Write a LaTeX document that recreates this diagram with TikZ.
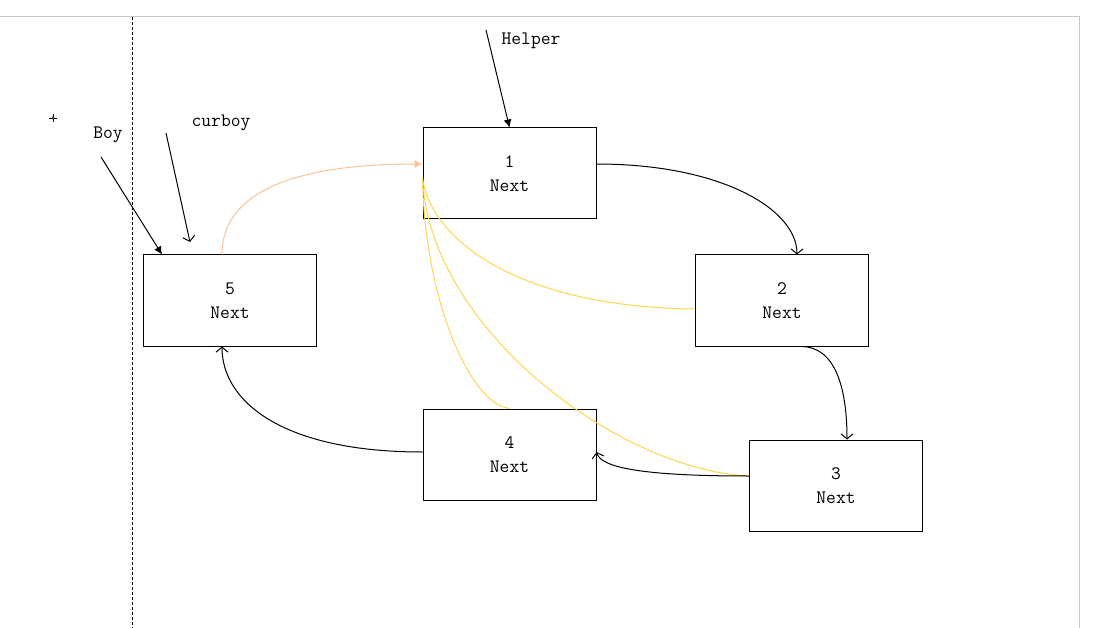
\documentclass[tikz,border=0pt]{standalone}
\usetikzlibrary{arrows.meta,calc}
\definecolor{framegray}{RGB}{200,200,200}
\definecolor{linkorange}{RGB}{248,196,150}
\definecolor{linkyellow}{RGB}{255,213,80}
\begin{document}
\begin{tikzpicture}[x=1pt,y=-1pt,
  txt/.style={font=\ttfamily\fontsize{19}{24}\selectfont, inner sep=0pt},
  listbox/.style={draw, line width=1pt, minimum width=173pt, minimum height=91pt, align=center,
    font=\ttfamily\fontsize{19}{24}\selectfont},
  link/.style={line width=1pt, -{Straight Barb[length=5pt,width=12pt,line width=1pt]}},
  ptr/.style={line width=1pt, -{Latex[length=8pt,width=8pt]}},
  openptr/.style={line width=1pt, -{Straight Barb[length=5pt,width=12pt,line width=1pt]}},
  orangelink/.style={line width=1pt, linkorange, -{Latex[length=8pt,width=8pt]}},
  yellowlink/.style={line width=1pt, linkyellow}]
\useasboundingbox (0,0) rectangle (1094,628);
% frame and divider
\draw[framegray, line width=1pt] (0,17) -- (1079,17) -- (1079,628);
\draw[line width=1pt, dash pattern=on 3pt off 2pt] (132,17) -- (132,628);
% small marker
\draw[line width=0.8pt] (49,118) -- (57,118) (53,114) -- (53,122);
\draw[line width=0.6pt, fill=white] (53,118) circle (1.3);
% boxes
\node[listbox] (b1) at (509.5,173.5) {1\\Next};
\node[listbox] (b2) at (782,300.5) {2\\Next};
\node[listbox] (b5) at (230,300.5) {5\\Next};
\node[listbox] (b4) at (509.5,454.5) {4\\Next};
\node[listbox] (b3) at (836,485.5) {3\\Next};
% labels
\node[txt] (boy) at (108,135) {Boy};
\node[txt] (curboy) at (221,123) {curboy};
\node[txt] (helper) at (531,41) {Helper};
% pointer arrows
\coordinate (boyS) at (101,157);
\coordinate (curS) at (166,133);
\coordinate (curE) at (190,242);
\coordinate (helS) at (486,30);
\draw[ptr] (boyS) -- ($(b5.north west)+(19,0)$);
\draw[openptr] (curS) -- (curE);
\draw[ptr] (helS) -- (b1.north);
% yellow links
\draw[yellowlink] ($(b2.west)+(0,8.5)$) .. controls +(-180,-2) and +(8,60) .. ($(b1.west)+(0,4.5)$);
\draw[yellowlink] (b4.north) .. controls +(-39,-4) and +(2,122) .. ($(b1.west)+(0,4.5)$);
\draw[yellowlink] ($(b3.west)+(0,-9.5)$) .. controls +(-129,-6) and +(7,152) .. ($(b1.west)+(0,4.5)$);
% black links
\draw[link] ($(b1.east)+(0,-9.5)$) .. controls +(125,0) and +(0,-45) .. ($(b2.north)+(15,0)$);
\draw[link] ($(b2.south)+(19,0)$) .. controls +(35,0) and +(0,-50) .. ($(b3.north)+(11,0)$);
\draw[link] ($(b3.west)+(0,-9.5)$) .. controls +(-110,0) and +(4,15) .. ($(b4.east)+(0,-2.5)$);
\draw[link] ($(b4.west)+(0,-2.5)$) .. controls +(-140,0) and +(0,55) .. ($(b5.south)+(-8,0)$);
% orange link
\draw[orangelink] ($(b5.north)+(-8,0)$) .. controls +(0,-70) and +(-110,0) .. ($(b1.west)+(0,-9.5)$);
\end{tikzpicture}
\end{document}
